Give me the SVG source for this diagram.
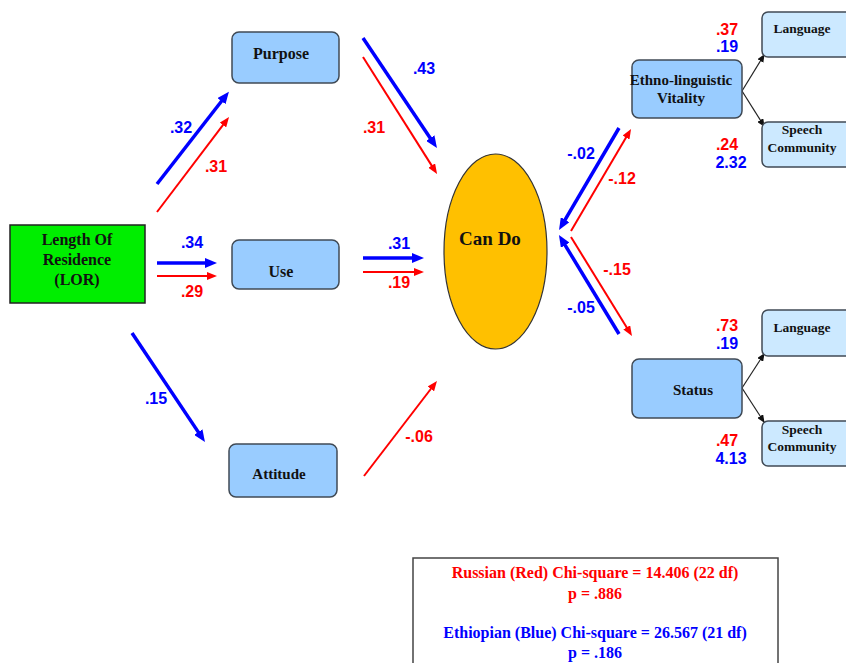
<svg xmlns="http://www.w3.org/2000/svg" width="846" height="663" viewBox="0 0 846 663">
<defs>
<style>
.box{fill:#99ccff;stroke:#404a55;stroke-width:1.5}
.box2{fill:#cce9ff;stroke:#404a55;stroke-width:1.5}
.nt{font-family:"Liberation Serif","Times New Roman",serif;font-weight:bold;fill:#111;text-anchor:middle}
.lb{font-family:"Liberation Sans",Arial,sans-serif;font-weight:bold;font-size:16px;text-anchor:middle}
.b{fill:#0000ff}
.r{fill:#ff0000}
.bl{stroke:#0000ff;stroke-width:3.5;fill:none;marker-end:url(#mb)}
.rl{stroke:#ff0000;stroke-width:2;fill:none;marker-end:url(#mr)}
.kl{stroke:#222;stroke-width:1.2;fill:none;marker-end:url(#mk)}
.ft{font-family:"Liberation Serif","Times New Roman",serif;font-weight:bold;font-size:16px;text-anchor:middle}
</style>
<marker id="mb" markerUnits="userSpaceOnUse" markerWidth="12" markerHeight="10" refX="4" refY="5" orient="auto"><path d="M0,0 L12,5 L0,10 z" fill="#0000ff"/></marker>
<marker id="mr" markerUnits="userSpaceOnUse" markerWidth="10" markerHeight="8" refX="3" refY="4" orient="auto"><path d="M0,0 L10,4 L0,8 z" fill="#ff0000"/></marker>
<marker id="mk" markerUnits="userSpaceOnUse" markerWidth="8" markerHeight="7" refX="7" refY="3.5" orient="auto"><path d="M0,0 L8,3.5 L0,7 z" fill="#111"/></marker>
</defs>
<rect width="846" height="663" fill="#ffffff"/>

<g id="connectors">
<line class="bl" x1="157" y1="184" x2="224" y2="98"/>
<line class="rl" x1="157" y1="212" x2="224.8" y2="122.6"/>
<line class="bl" x1="157" y1="263" x2="209" y2="263"/>
<line class="rl" x1="157" y1="276" x2="210" y2="276"/>
<line class="bl" x1="363" y1="38" x2="432.5" y2="141.4"/>
<line class="rl" x1="363" y1="57" x2="433.3" y2="168.1"/>
<line class="bl" x1="363" y1="258" x2="416" y2="258"/>
<line class="rl" x1="363" y1="272" x2="417" y2="272"/>
<line class="bl" x1="132" y1="333" x2="200.5" y2="435.4"/>
<line class="rl" x1="364" y1="476" x2="432.7" y2="386.5"/>
<line class="bl" x1="619" y1="128" x2="563.1" y2="223.1"/>
<line class="rl" x1="571" y1="231" x2="627.5" y2="135"/>
<line class="bl" x1="619" y1="334" x2="563.1" y2="241.8"/>
<line class="rl" x1="571" y1="237" x2="628.3" y2="330"/>
<line class="kl" x1="742" y1="91" x2="764" y2="55"/>
<line class="kl" x1="742" y1="91" x2="764" y2="126"/>
<line class="kl" x1="742" y1="388" x2="764" y2="354"/>
<line class="kl" x1="742" y1="388" x2="764" y2="422"/>
</g>

<g id="labels">
<text class="lb b" x="181" y="133">.32</text>
<text class="lb r" x="216" y="172">.31</text>
<text class="lb b" x="192" y="248">.34</text>
<text class="lb r" x="192" y="297">.29</text>
<text class="lb b" x="424" y="74">.43</text>
<text class="lb r" x="374" y="133">.31</text>
<text class="lb b" x="399" y="249">.31</text>
<text class="lb r" x="399" y="288">.19</text>
<text class="lb b" x="156" y="404">.15</text>
<text class="lb r" x="419" y="442">-.06</text>
<text class="lb b" x="581" y="159">-.02</text>
<text class="lb r" x="622" y="184">-.12</text>
<text class="lb r" x="617" y="275">-.15</text>
<text class="lb b" x="581" y="313">-.05</text>
<text class="lb r" x="727" y="35">.37</text>
<text class="lb b" x="727" y="52">.19</text>
<text class="lb r" x="727" y="150">.24</text>
<text class="lb b" x="731" y="168">2.32</text>
<text class="lb r" x="727" y="331">.73</text>
<text class="lb b" x="727" y="349">.19</text>
<text class="lb r" x="727" y="446">.47</text>
<text class="lb b" x="731" y="464">4.13</text>
</g>

<g id="lor">
<rect x="10" y="225" width="135" height="78" fill="#00ee00" stroke="#222" stroke-width="1.5"/>
<text class="nt" font-size="16" x="77" y="245">Length Of</text>
<text class="nt" font-size="16" x="77" y="265">Residence</text>
<text class="nt" font-size="16" x="77" y="285">(LOR)</text>
</g>
<g id="purpose">
<rect class="box" x="232" y="32" width="107" height="51" rx="7"/>
<text class="nt" font-size="16" x="281" y="59">Purpose</text>
</g>
<g id="use">
<rect class="box" x="232" y="240" width="107" height="49" rx="7"/>
<text class="nt" font-size="16" x="281" y="277">Use</text>
</g>
<g id="attitude">
<rect class="box" x="229" y="444" width="108" height="53" rx="7"/>
<text class="nt" font-size="15" x="279" y="479">Attitude</text>
</g>
<g id="cando">
<ellipse cx="495.5" cy="251.5" rx="51.5" ry="97.5" fill="#ffc000" stroke="#333" stroke-width="1.2"/>
<text class="nt" font-size="19" x="490" y="245">Can Do</text>
</g>
<g id="ev">
<rect class="box" x="632" y="60" width="110" height="58" rx="7"/>
<text class="nt" font-size="15" x="681" y="85">Ethno-linguistic</text>
<text class="nt" font-size="15" x="681" y="103">Vitality</text>
</g>
<g id="status">
<rect class="box" x="632" y="359" width="110" height="59" rx="7"/>
<text class="nt" font-size="15" x="693" y="395">Status</text>
</g>
<g id="lang1">
<rect class="box2" x="762" y="12" width="110" height="45" rx="6"/>
<text class="nt" font-size="13.5" x="802" y="33">Language</text>
</g>
<g id="speech1">
<rect class="box2" x="762" y="122" width="110" height="45" rx="6"/>
<text class="nt" font-size="13.5" x="802" y="134">Speech</text>
<text class="nt" font-size="13.5" x="802" y="152">Community</text>
</g>
<g id="lang2">
<rect class="box2" x="762" y="310" width="110" height="46" rx="6"/>
<text class="nt" font-size="13.5" x="802" y="332">Language</text>
</g>
<g id="speech2">
<rect class="box2" x="762" y="421" width="110" height="45" rx="6"/>
<text class="nt" font-size="13.5" x="802" y="434">Speech</text>
<text class="nt" font-size="13.5" x="802" y="451">Community</text>
</g>
<g id="fit">
<rect x="413" y="558" width="365" height="120" fill="#ffffff" stroke="#444" stroke-width="1.5"/>
<text class="ft r" x="595" y="578">Russian (Red) Chi-square = 14.406 (22 df)</text>
<text class="ft r" x="595" y="599">p = .886</text>
<text class="ft b" x="595" y="638">Ethiopian (Blue) Chi-square = 26.567 (21 df)</text>
<text class="ft b" x="595" y="658">p = .186</text>
</g>
</svg>
